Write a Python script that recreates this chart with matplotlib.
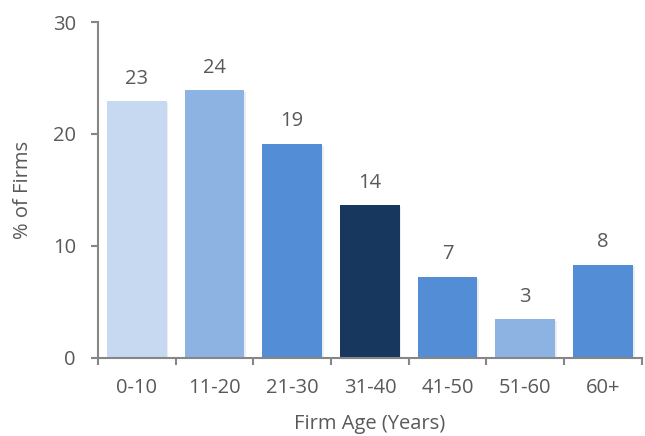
import matplotlib
matplotlib.use("Agg")
import matplotlib.pyplot as plt
import matplotlib.patheffects as pe
import numpy as np

categories = ["0-10", "11-20", "21-30", "31-40", "41-50", "51-60", "60+"]
values = [22.9, 23.9, 19.1, 13.6, 7.2, 3.4, 8.3]
value_labels = ["23", "24", "19", "14", "7", "3", "8"]
colors = ["#C6D9F1", "#8DB3E2", "#538DD5", "#17375E", "#538DD5", "#8DB3E2", "#538DD5"]
yticks = [0, 10, 20, 30]

plt.rcParams['font.family'] = ['Open Sans', 'DejaVu Sans']
txt = "#595959"
spine_c = "#868686"
fs = 14.5

fig = plt.figure(figsize=(6.45, 4.36), dpi=100)
ax = fig.add_axes([0.152, 0.18, 0.843, 0.7695])

x = np.arange(len(categories))
bars = ax.bar(x, values, width=0.77, color=colors, zorder=2)
for b in bars:
    b.set_path_effects([pe.SimplePatchShadow(offset=(1.2, -1.2), shadow_rgbFace="#000000", alpha=0.07), pe.Normal()])
for xi, v, lab in zip(x, values, value_labels):
    ax.annotate(lab, (xi, v), xytext=(0, 9), textcoords="offset points",
                ha="center", va="bottom", fontsize=fs, color=txt)

ax.set_xlim(-0.5, len(categories) - 0.5)
ax.set_ylim(0, 30)
ax.set_yticks(yticks)
ax.set_yticklabels([str(t) for t in yticks], fontsize=fs, color=txt)
ax.set_xticks(np.arange(len(categories) + 1) - 0.5)
ax.set_xticklabels([])
ax.set_xticks(x, minor=True)
ax.set_xticklabels(categories, minor=True, fontsize=fs, color=txt)
ax.tick_params(axis="x", which="minor", length=0, pad=15)
ax.tick_params(axis="x", which="major", length=5, width=1.5, color=spine_c, direction="out")
ax.tick_params(axis="y", length=5, width=1.5, color=spine_c, direction="out", pad=11)

for s in ["top", "right"]:
    ax.spines[s].set_visible(False)
for s in ["left", "bottom"]:
    ax.spines[s].set_color(spine_c)
    ax.spines[s].set_linewidth(1.5)

ax.set_xlabel("Firm Age (Years)", fontsize=fs, color=txt, labelpad=11.5)
ax.set_ylabel("% of Firms", fontsize=fs, color=txt, labelpad=14)

fig.savefig("out.png", dpi=100)
